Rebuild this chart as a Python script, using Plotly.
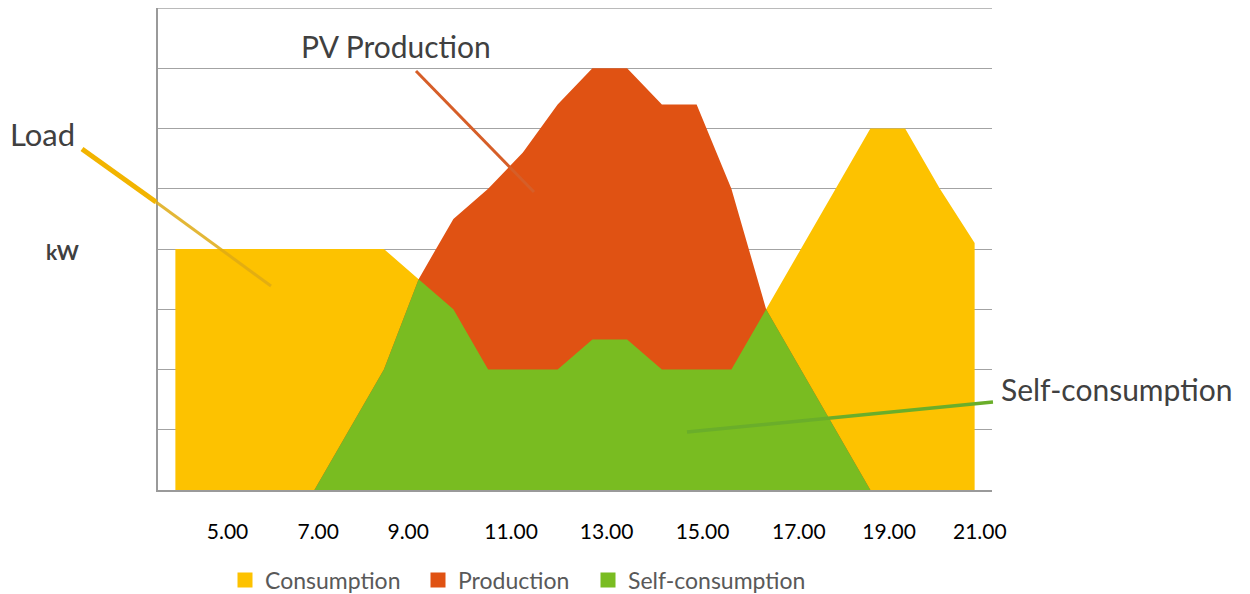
import plotly.graph_objects as go

# 24 sampling slots across the day
slots = list(range(24))

# Power values in kW per slot
load_kw = [4, 4, 4, 4, 4, 4, 4, 3.5, 3, 2, 2, 2, 2.5, 2.5, 2, 2, 2, 3, 4, 5, 6, 6, 5, 4.1]
pv_kw = [0, 0, 0, 0, 0, 1, 2, 3.5, 4.5, 5, 5.6, 6.4, 7, 7, 6.4, 6.4, 5, 3, 2, 1, 0, 0, 0, 0]
self_kw = [0, 0, 0, 0, 0, 1, 2, 3.5, 3, 2, 2, 2, 2.5, 2.5, 2, 2, 2, 3, 2, 1, 0, 0, 0, 0]

# Hour labels along the time axis
tick_text = ["5.00", "7.00", "9.00", "11.00", "13.00", "15.00", "17.00", "19.00", "21.00"]
tick_pos = [1.50, 4.11, 6.70, 9.66, 12.41, 15.17, 17.94, 20.54, 23.15]

Y_MAX = 8

series_names = ["Consumption", "Production", "Self-consumption"]
colors = ["#FDC200", "#E05213", "#79BC21"]

FONT = "Lato"
TEXT_GREY = "#404040"
GRID = "#A3A3A3"

# plot area in pixels: left 158, right 992, top 8, bottom 490
L, R, T, B = 158, 992, 8, 490


def px(x):
    return (x - L) / (R - L)


def py(y):
    return (B - y) / (B - T)


fig = go.Figure()

for name, values, color in zip(series_names, [load_kw, pv_kw, self_kw], colors):
    fig.add_trace(go.Scatter(
        x=slots, y=values, mode="none", fill="tozeroy",
        fillcolor=color, name=name, showlegend=False, hoverinfo="x+y+name",
    ))

# one legend box per series so each entry sits at its own place
legend_ids = ["legend", "legend2", "legend3"]
legend_left = [225, 418, 588]
for name, color, lid in zip(series_names, colors, legend_ids):
    fig.add_trace(go.Scatter(
        x=[None], y=[None], mode="markers", name=name, legend=lid,
        marker=dict(symbol="square", size=15, color=color),
    ))

legend_style = dict(
    orientation="h", y=py(580), xanchor="left", yanchor="middle",
    font=dict(family=FONT, size=23, color="#595959"),
    itemwidth=30, bgcolor="rgba(0,0,0,0)",
)

shapes = [
    # top gridline of the value axis
    dict(type="line", xref="paper", yref="y", x0=0, x1=1, y0=Y_MAX, y1=Y_MAX,
         line=dict(color=GRID, width=1.3), layer="below"),
    # leader line for "Load": heavy outside the plot, lighter across it
    dict(type="line", xref="paper", yref="paper",
         x0=px(82), y0=py(149), x1=px(156), y1=py(202),
         line=dict(color="#F2B400", width=5)),
    dict(type="line", xref="paper", yref="paper",
         x0=px(156), y0=py(202), x1=px(271), y1=py(286),
         line=dict(color="rgba(222,170,20,0.85)", width=3)),
    # leader line for "PV Production"
    dict(type="line", xref="paper", yref="paper",
         x0=px(416), y0=py(71), x1=px(534), y1=py(192),
         line=dict(color="#D65E28", width=3)),
    # leader line for "Self-consumption"
    dict(type="line", xref="paper", yref="paper",
         x0=px(687), y0=py(432), x1=px(993), y1=py(402),
         line=dict(color="#6AAE2A", width=3.5)),
]

annotations = [
    dict(text="Load", x=px(42), y=py(134), xref="paper", yref="paper",
         showarrow=False, xanchor="center", yanchor="middle",
         font=dict(family=FONT, size=31, color=TEXT_GREY)),
    dict(text="PV Production", x=px(396), y=py(46), xref="paper", yref="paper",
         showarrow=False, xanchor="center", yanchor="middle",
         font=dict(family=FONT, size=30, color=TEXT_GREY)),
    dict(text="Self-consumption", x=px(1116), y=py(389), xref="paper", yref="paper",
         showarrow=False, xanchor="center", yanchor="middle",
         font=dict(family=FONT, size=30, color=TEXT_GREY)),
    dict(text="<b>kW</b>", x=px(62), y=py(251), xref="paper", yref="paper",
         showarrow=False, xanchor="center", yanchor="middle",
         font=dict(family=FONT, size=21, color=TEXT_GREY)),
]

fig.update_layout(
    width=1250, height=594,
    margin=dict(l=L, r=1250 - R, t=T, b=594 - B, autoexpand=False),
    paper_bgcolor="white", plot_bgcolor="white",
    font=dict(family=FONT, color="black"),
    shapes=shapes, annotations=annotations,
    legend=dict(x=px(legend_left[0]), **legend_style),
    legend2=dict(x=px(legend_left[1]), **legend_style),
    legend3=dict(x=px(legend_left[2]), **legend_style),
)

fig.update_xaxes(
    range=[-0.5, 23.5], tickmode="array", tickvals=tick_pos, ticktext=tick_text,
    showgrid=False, zeroline=False, showline=True, linecolor="#9A9A9A", linewidth=1.5,
    ticks="", ticklabelstandoff=22,
    tickfont=dict(family=FONT, size=21, color="black"),
)
fig.update_yaxes(
    range=[0, Y_MAX], dtick=1, showticklabels=False,
    showgrid=True, gridcolor=GRID, gridwidth=1.3,
    zeroline=False, showline=True, linecolor="#9A9A9A", linewidth=1.5, ticks="",
)

fig.write_html("out.html")
